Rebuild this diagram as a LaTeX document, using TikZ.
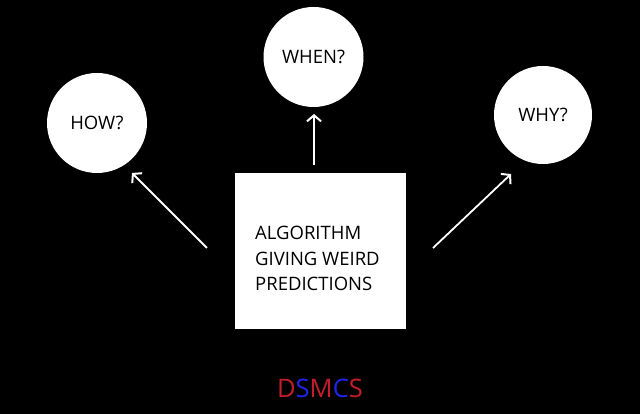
\documentclass[tikz,border=0pt]{standalone}
\usepackage{fontspec}
\setmainfont{Open Sans}
\usetikzlibrary{arrows.meta}
\definecolor{dsRed}{HTML}{C41E2A}
\definecolor{dsBlue}{HTML}{2323F0}

\begin{document}
\begin{tikzpicture}[x=1pt,y=1pt,
  q/.style={circle,fill=white,minimum size=100pt,inner sep=0pt,font=\fontsize{18.5}{22}\selectfont},
  b/.style={fill=white,minimum width=171pt,minimum height=156pt,inner sep=0pt},
  a/.style={-{Straight Barb[length=6pt,width=14pt,line width=2pt]},white,line width=1.8pt}]
\fill[black] (0,0) rectangle (640,414);
\useasboundingbox (0,0) rectangle (640,414);
\node[q] (how) at (97,291) {HOW?};
\node[q] (when) at (313.5,357) {WHEN?};
\node[q,minimum size=98pt] (why) at (543,299) {WHY?};
\node[b] (algo) at (320.5,163) {};
\node[anchor=west,align=left,inner sep=0pt,font=\fontsize{18.5}{25.5}\selectfont] (txt) at (255,155.5)
  {ALGORITHM\\GIVING WEIRD\\PREDICTIONS};
\coordinate (l0) at (207,166);
\coordinate (l1) at (132,241);
\coordinate (m0) at (314,249);
\coordinate (m1) at (314,300);
\coordinate (r0) at (433,166);
\coordinate (r1) at (511,240);
\draw[a] (l0) -- (l1);
\draw[a] (m0) -- (m1);
\draw[a] (r0) -- (r1);
\node[font=\fontsize{25.5}{30}\selectfont] (logo) at (320,26)
  {\textcolor{dsRed}{D}\textcolor{dsBlue}{S}\textcolor{dsRed}{M}\textcolor{dsBlue}{C}\textcolor{dsRed}{S}};
\end{tikzpicture}
\end{document}
